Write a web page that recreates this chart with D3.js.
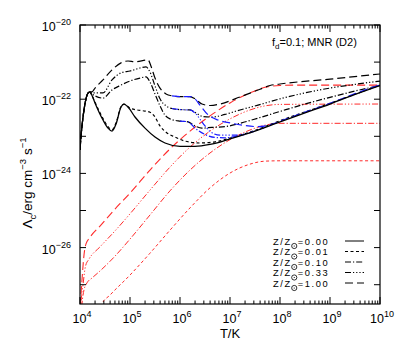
<!DOCTYPE html>
<html lang="en">
<head>
<meta charset="UTF-8">
<title>Cooling function</title>
<script src="https://cdnjs.cloudflare.com/ajax/libs/d3/7.8.5/d3.min.js"></script>
<style>
  body { margin: 0; background: #fff; }
  svg { display: block; font-family: "Liberation Sans", Arial, sans-serif; }
</style>
</head>
<body>
<svg width="404" height="354"></svg>
<script>
// all points are [log10 T, log10 Lambda]

// total cooling (black)
const totalZ000 = [[4.0,-23.37],[4.02,-23.0],[4.05,-22.6],[4.1,-22.12],[4.15,-21.86],[4.19,-21.8],[4.24,-21.9],[4.3,-22.1],[4.46,-22.56],[4.56,-22.78],[4.64,-22.86],[4.72,-22.67],[4.82,-22.21],[4.88,-22.13],[4.96,-22.21],[5.1,-22.48],[5.3,-22.78],[5.5,-23.02],[5.7,-23.18],[6.0,-23.27],[6.3,-23.27],[6.6,-23.22],[7.0,-23.07],[7.5,-22.86],[8.0,-22.61],[8.5,-22.37],[9.0,-22.13],[9.5,-21.87],[10.0,-21.63]];
const totalZ001 = [[4.0,-23.37],[4.02,-23.0],[4.05,-22.6],[4.1,-22.12],[4.15,-21.86],[4.19,-21.8],[4.24,-21.9],[4.3,-22.08],[4.46,-22.52],[4.56,-22.74],[4.64,-22.82],[4.72,-22.64],[4.82,-22.2],[4.88,-22.13],[5.0,-22.24],[5.14,-22.29],[5.3,-22.32],[5.4,-22.35],[5.5,-22.48],[5.6,-22.72],[5.74,-22.91],[5.9,-23.02],[6.1,-23.13],[6.4,-23.18],[6.7,-23.15],[7.0,-23.05],[7.5,-22.84],[8.0,-22.58],[9.0,-22.11],[10.0,-21.62]];
const totalZ010 = [[4.0,-23.37],[4.02,-23.0],[4.05,-22.6],[4.1,-22.12],[4.15,-21.86],[4.19,-21.8],[4.24,-21.86],[4.3,-21.91],[4.46,-21.97],[4.64,-21.75],[4.82,-21.62],[5.0,-21.51],[5.2,-21.43],[5.32,-21.4],[5.4,-21.54],[5.5,-21.86],[5.6,-22.18],[5.7,-22.43],[5.8,-22.53],[6.0,-22.59],[6.16,-22.61],[6.3,-22.72],[6.44,-22.78],[6.64,-22.76],[6.9,-22.74],[7.2,-22.65],[7.56,-22.51],[8.0,-22.33],[8.5,-22.13],[9.0,-21.95],[9.5,-21.78],[10.0,-21.63]];
const totalZ033 = [[4.0,-23.37],[4.02,-23.0],[4.05,-22.6],[4.1,-22.12],[4.15,-21.86],[4.19,-21.8],[4.24,-21.83],[4.3,-21.83],[4.46,-21.83],[4.64,-21.48],[4.82,-21.29],[5.0,-21.24],[5.2,-21.16],[5.32,-21.13],[5.4,-21.27],[5.5,-21.64],[5.6,-21.99],[5.72,-22.18],[5.84,-22.25],[6.0,-22.28],[6.2,-22.29],[6.32,-22.37],[6.46,-22.47],[6.64,-22.48],[6.9,-22.41],[7.2,-22.29],[7.56,-22.16],[8.0,-21.99],[8.5,-21.83],[9.0,-21.7],[9.5,-21.6],[10.0,-21.51]];
const totalZ100 = [[4.0,-23.37],[4.02,-23.0],[4.05,-22.6],[4.1,-22.12],[4.15,-21.86],[4.19,-21.8],[4.24,-21.8],[4.3,-21.7],[4.46,-21.48],[4.64,-21.21],[4.82,-21.02],[4.96,-20.97],[5.1,-20.99],[5.36,-20.94],[5.42,-21.11],[5.5,-21.43],[5.6,-21.7],[5.72,-21.86],[5.84,-21.91],[6.0,-21.93],[6.2,-21.93],[6.3,-21.99],[6.44,-22.13],[6.6,-22.17],[6.8,-22.13],[7.2,-21.94],[7.6,-21.73],[7.8,-21.63],[8.0,-21.59],[9.0,-21.46],[10.0,-21.32]];

// gas-only cooling (blue), only where it leaves the total
const gasZ010 = [[6.0,-22.59],[6.16,-22.61],[6.3,-22.78],[6.5,-22.95],[6.7,-23.03],[6.9,-23.04],[7.1,-23.01],[7.3,-22.95]];
const gasZ033 = [[5.84,-22.25],[6.0,-22.28],[6.2,-22.29],[6.32,-22.4],[6.46,-22.65],[6.6,-22.87],[6.8,-22.97],[7.1,-22.97],[7.4,-22.9],[7.7,-22.76]];
const gasZ100 = [[5.84,-21.91],[6.0,-21.93],[6.2,-21.93],[6.3,-21.99],[6.4,-22.16],[6.56,-22.42],[6.76,-22.56],[7.0,-22.64],[7.3,-22.71],[7.56,-22.74],[7.8,-22.69],[8.0,-22.59],[8.5,-22.35],[9.0,-22.11],[9.5,-21.85],[10.0,-21.61]];

// dust-only cooling (red)
const dustZ001 = [[4.38,-27.9],[4.44,-27.52],[4.6,-27.28],[5.0,-26.74],[5.4,-26.15],[5.8,-25.53],[6.2,-24.93],[6.6,-24.39],[7.0,-23.99],[7.4,-23.75],[7.7,-23.67],[8.0,-23.66],[10.0,-23.66]];
const dustZ010 = [[4.02,-27.9],[4.04,-27.52],[4.08,-27.14],[4.14,-26.95],[4.24,-26.82],[4.4,-26.63],[4.7,-26.23],[5.0,-25.77],[5.4,-25.12],[5.8,-24.47],[6.2,-23.91],[6.6,-23.45],[7.0,-23.09],[7.4,-22.83],[7.7,-22.7],[8.0,-22.65],[10.0,-22.65]];
const dustZ033 = [[4.01,-27.9],[4.02,-27.52],[4.06,-27.01],[4.11,-26.5],[4.18,-26.31],[4.4,-25.98],[4.7,-25.55],[5.0,-25.09],[5.4,-24.45],[5.8,-23.83],[6.2,-23.29],[6.6,-22.86],[7.0,-22.53],[7.4,-22.29],[7.7,-22.18],[8.0,-22.14],[10.0,-22.13]];
const dustZ100 = [[4.0,-27.9],[4.01,-27.52],[4.04,-26.87],[4.08,-26.2],[4.12,-25.9],[4.19,-25.74],[4.4,-25.42],[4.7,-24.96],[5.0,-24.53],[5.4,-23.91],[5.8,-23.34],[6.2,-22.86],[6.6,-22.45],[7.0,-22.1],[7.4,-21.83],[7.7,-21.68],[8.0,-21.63],[8.4,-21.62],[10.0,-21.62]];

const zLabels = ["0.00", "0.01", "0.10", "0.33", "1.00"];
const xTickExps = [4, 5, 6, 7, 8, 9, 10];
const yTickExps = [-20, -22, -24, -26];

const dashes = {
  "0.00": null,
  "0.01": "3,2.5",
  "0.10": "6,2,1.2,2",
  "0.33": "6,2,1.2,2,1.2,2,1.2,2",
  "1.00": "8,4"
};

const svg = d3.select("svg");
const plotL = 80, plotR = 380, plotT = 25, plotB = 304;

const x = d3.scaleLog().domain([1e4, 1e10]).range([plotL, plotR]);
const y = d3.scaleLog().domain([Math.pow(10, -27.52), 1e-20]).range([plotB, plotT]);

svg.append("clipPath").attr("id", "clip")
  .append("rect").attr("x", plotL).attr("y", plotT).attr("width", plotR - plotL).attr("height", plotB - plotT);

const line = d3.line()
  .x(d => x(Math.pow(10, d[0])))
  .y(d => y(Math.pow(10, d[1])))
  .curve(d3.curveMonotoneX);

const plot = svg.append("g").attr("clip-path", "url(#clip)");

function drawCurve(data, z, color, width) {
  plot.append("path")
    .attr("d", line(data))
    .attr("fill", "none")
    .attr("stroke", color)
    .attr("stroke-width", width)
    .attr("stroke-dasharray", dashes[z])
    .attr("stroke-linejoin", "round");
}

// red dust curves
drawCurve(dustZ001, "0.01", "#ff2a2a", 1);
drawCurve(dustZ010, "0.10", "#ff2a2a", 1);
drawCurve(dustZ033, "0.33", "#ff2a2a", 1);
drawCurve(dustZ100, "1.00", "#ff2a2a", 1.1);

// black totals
drawCurve(totalZ100, "1.00", "#000", 1.2);
drawCurve(totalZ033, "0.33", "#000", 1.2);
drawCurve(totalZ010, "0.10", "#000", 1.2);
drawCurve(totalZ001, "0.01", "#000", 1.2);

// blue gas-only
drawCurve(gasZ010, "0.10", "#1a1aff", 1.2);
drawCurve(gasZ033, "0.33", "#1a1aff", 1.2);
drawCurve(gasZ100, "1.00", "#1a1aff", 1.2);

// solid Z=0 last so it stays black where everything converges
drawCurve(totalZ000, "0.00", "#000", 1.3);

// frame
svg.append("rect")
  .attr("x", plotL).attr("y", plotT)
  .attr("width", plotR - plotL).attr("height", plotB - plotT)
  .attr("fill", "none").attr("stroke", "#000").attr("stroke-width", 1.2);

// x ticks (inward, bottom and top)
const xt = x.ticks();
xt.forEach(t => {
  const major = Math.abs(Math.log10(t) - Math.round(Math.log10(t))) < 1e-9;
  const len = major ? 7 : 3.5;
  const px = x(t);
  svg.append("line").attr("x1", px).attr("x2", px).attr("y1", plotB).attr("y2", plotB - len)
    .attr("stroke", "#000").attr("stroke-width", 1);
  svg.append("line").attr("x1", px).attr("x2", px).attr("y1", plotT).attr("y2", plotT + len)
    .attr("stroke", "#000").attr("stroke-width", 1);
});

// y ticks: one per decade, both sides
d3.range(-27, -19).forEach(e => {
  const py = y(Math.pow(10, e));
  svg.append("line").attr("x1", plotL).attr("x2", plotL + 6).attr("y1", py).attr("y2", py)
    .attr("stroke", "#000").attr("stroke-width", 1);
  svg.append("line").attr("x1", plotR).attr("x2", plotR - 6).attr("y1", py).attr("y2", py)
    .attr("stroke", "#000").attr("stroke-width", 1);
});

// tick labels
xTickExps.forEach(e => {
  const t = svg.append("text")
    .attr("x", x(Math.pow(10, e)) + 2)
    .attr("y", 323)
    .attr("text-anchor", "middle")
    .attr("font-size", 12.5);
  t.append("tspan").text("10");
  t.append("tspan").attr("dy", -6).attr("font-size", 9).text(e);
});

yTickExps.forEach(e => {
  const t = svg.append("text")
    .attr("x", 71)
    .attr("y", y(Math.pow(10, e)) + 6)
    .attr("text-anchor", "end")
    .attr("font-size", 12.5);
  t.append("tspan").text("10");
  t.append("tspan").attr("dy", -6).attr("font-size", 9).text("\u2212" + Math.abs(e));
});

// axis titles
svg.append("text")
  .attr("x", 230).attr("y", 338)
  .attr("text-anchor", "middle")
  .attr("font-size", 13)
  .text("T/K");

const yl = svg.append("text")
  .attr("transform", "translate(32,183) rotate(-90)")
  .attr("text-anchor", "middle")
  .attr("font-size", 13.5);
yl.append("tspan").text("\u039B");
yl.append("tspan").attr("dy", 4).attr("font-size", 9.5).text("c");
yl.append("tspan").attr("dy", -4).text("/erg cm");
yl.append("tspan").attr("dy", -6).attr("font-size", 9.5).text("\u22123");
yl.append("tspan").attr("dy", 6).text(" s");
yl.append("tspan").attr("dy", -6).attr("font-size", 9.5).text("\u22121");

// annotation
const ann = svg.append("text")
  .attr("x", 272).attr("y", 46)
  .attr("font-size", 11);
ann.append("tspan").text("f");
ann.append("tspan").attr("dy", 3).attr("font-size", 8).text("d");
ann.append("tspan").attr("dy", -3).text("=0.1;  MNR  (D2)");

// legend: rows packed tight as in the original; the solar symbol is drawn, not typed
const legendY = [241, 251.5, 262, 272.5, 283];
const legX = 273;
zLabels.forEach((z, i) => {
  const ry = legendY[i];
  const zz = svg.append("text")
    .attr("x", legX).attr("y", ry + 3.5)
    .attr("font-size", 9.3)
    .attr("letter-spacing", 1.6)
    .text("Z/Z");
  const w = zz.node().getComputedTextLength();
  const cx = legX + w + 2.5;
  svg.append("circle").attr("cx", cx).attr("cy", ry + 5).attr("r", 2.6)
    .attr("fill", "none").attr("stroke", "#000").attr("stroke-width", 0.8);
  svg.append("circle").attr("cx", cx).attr("cy", ry + 5).attr("r", 0.6).attr("fill", "#000");
  svg.append("text")
    .attr("x", cx + 3.5).attr("y", ry + 3.5)
    .attr("font-size", 9.3)
    .attr("letter-spacing", 1.6)
    .text("=" + z);
  svg.append("line")
    .attr("x1", 345).attr("x2", 364)
    .attr("y1", ry).attr("y2", ry)
    .attr("stroke", "#000").attr("stroke-width", 1)
    .attr("stroke-dasharray", dashes[z]);
});
</script>
</body>
</html>
